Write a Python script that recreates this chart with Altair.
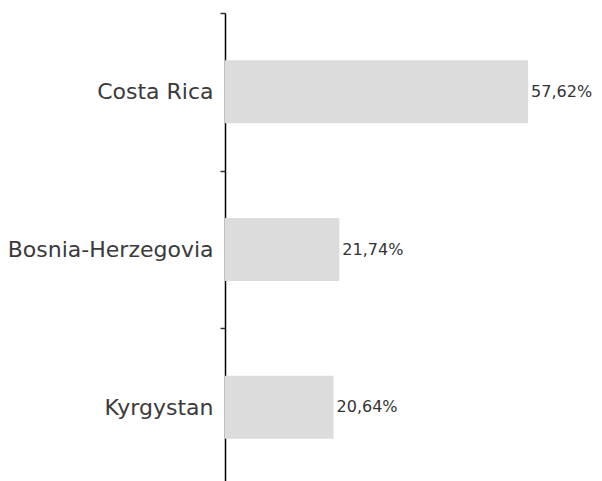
import altair as alt
import pandas as pd

countries = ["Costa Rica", "Bosnia-Herzegovia", "Kyrgystan"]
values = [57.62, 21.74, 20.64]
labels = ["57,62%", "21,74%", "20,64%"]

df = pd.DataFrame({"country": countries, "value": values, "label": labels})

y_enc = alt.Y(
    "country:N",
    sort=countries,
    scale=alt.Scale(paddingInner=0, paddingOuter=0),
    axis=alt.Axis(
        title=None,
        domainColor="#000000",
        domainWidth=1.5,
        tickColor="#333333",
        tickSize=5,
        tickWidth=1.5,
        tickBand="extent",
        labelFont="DejaVu Sans",
        labelFontSize=22,
        labelColor="#3a3a3a",
        labelPadding=7,
        labelLimit=300,
        grid=False,
    ),
)
x_enc = alt.X("value:Q", scale=alt.Scale(domain=[0, 69.2]), axis=None)

bars = alt.Chart(df).mark_bar(color="#dcdcdc", height={"band": 0.40}).encode(x=x_enc, y=y_enc)
text = alt.Chart(df).mark_text(
    align="left", baseline="middle", dx=3, font="DejaVu Sans", fontSize=16, color="#333333"
).encode(x=x_enc, y=y_enc, text="label:N")

chart = (
    alt.layer(bars, text)
    .properties(
        width=364,
        height=473,
        autosize=alt.AutoSizeParams(type="none"),
        padding={"left": 217, "top": 5, "right": 5, "bottom": 0},
    )
    .configure(background="white")
    .configure_view(stroke=None, strokeWidth=0)
)

chart.save("out.html", embed_options={"renderer": "svg", "actions": False})
